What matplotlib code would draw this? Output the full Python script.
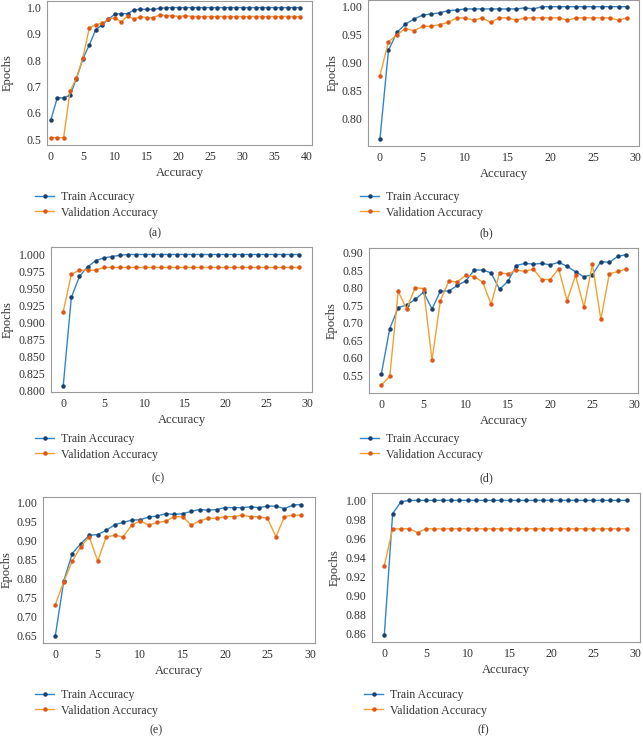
import matplotlib
matplotlib.use("Agg")
import matplotlib.pyplot as plt
from matplotlib.ticker import FormatStrFormatter

plt.rcParams['font.family'] = ['Liberation Serif', 'DejaVu Serif']

# --- data ---
train_a = [0.573, 0.657, 0.657, 0.667, 0.730, 0.805, 0.858, 0.915, 0.935, 0.956,
           0.975, 0.977, 0.977, 0.991, 0.994, 0.993, 0.993, 0.997, 0.999, 1.0,
           1.0, 1.0, 1.0, 1.0, 1.0, 1.0, 1.0, 1.0, 1.0, 1.0,
           1.0, 1.0, 1.0, 1.0, 1.0, 1.0, 1.0, 1.0, 1.0, 1.0]
val_a = [0.506, 0.506, 0.506, 0.683, 0.732, 0.809, 0.922, 0.935, 0.940, 0.956,
         0.962, 0.945, 0.969, 0.956, 0.966, 0.962, 0.962, 0.972, 0.969, 0.969,
         0.966, 0.969, 0.966, 0.966, 0.966, 0.966, 0.966, 0.966, 0.966, 0.966,
         0.966, 0.966, 0.966, 0.966, 0.966, 0.966, 0.966, 0.966, 0.966, 0.966]

train_b = [0.763, 0.922, 0.954, 0.969, 0.978, 0.985, 0.987, 0.989, 0.993, 0.994,
           0.996, 0.996, 0.996, 0.996, 0.996, 0.996, 0.996, 0.998, 0.996, 1.0,
           1.0, 1.0, 1.0, 1.0, 1.0, 1.0, 1.0, 1.0, 1.0, 1.0]
val_b = [0.877, 0.937, 0.950, 0.961, 0.957, 0.965, 0.965, 0.968, 0.972, 0.980,
         0.980, 0.976, 0.980, 0.972, 0.980, 0.980, 0.976, 0.980, 0.980, 0.980,
         0.980, 0.980, 0.976, 0.980, 0.980, 0.980, 0.980, 0.980, 0.976, 0.980]

train_c = [0.807, 0.937, 0.968, 0.982, 0.991, 0.995, 0.997, 0.999, 1.0, 1.0,
           1.0, 1.0, 1.0, 1.0, 1.0, 1.0, 1.0, 1.0, 1.0, 1.0,
           1.0, 1.0, 1.0, 1.0, 1.0, 1.0, 1.0, 1.0, 1.0, 1.0]
val_c = [0.916, 0.971, 0.977, 0.977, 0.977, 0.981, 0.981, 0.981, 0.981, 0.981,
         0.981, 0.981, 0.981, 0.981, 0.981, 0.981, 0.981, 0.981, 0.981, 0.981,
         0.981, 0.981, 0.981, 0.981, 0.981, 0.981, 0.981, 0.981, 0.981, 0.981]

train_d = [0.554, 0.684, 0.744, 0.751, 0.767, 0.788, 0.740, 0.791, 0.791, 0.807,
           0.820, 0.851, 0.851, 0.843, 0.796, 0.819, 0.864, 0.870, 0.868, 0.870,
           0.866, 0.873, 0.862, 0.846, 0.832, 0.838, 0.875, 0.873, 0.890, 0.895]
val_d = [0.522, 0.548, 0.790, 0.740, 0.801, 0.798, 0.594, 0.764, 0.820, 0.817,
         0.836, 0.832, 0.817, 0.753, 0.843, 0.840, 0.851, 0.847, 0.854, 0.824,
         0.824, 0.855, 0.764, 0.836, 0.745, 0.867, 0.710, 0.840, 0.847, 0.854]

train_e = [0.648, 0.793, 0.865, 0.891, 0.913, 0.915, 0.926, 0.941, 0.947, 0.953,
           0.954, 0.961, 0.964, 0.970, 0.968, 0.970, 0.976, 0.981, 0.979, 0.981,
           0.986, 0.986, 0.986, 0.988, 0.986, 0.990, 0.990, 0.983, 0.993, 0.994]
val_e = [0.730, 0.791, 0.845, 0.883, 0.909, 0.845, 0.909, 0.913, 0.909, 0.940,
         0.951, 0.940, 0.947, 0.950, 0.962, 0.962, 0.940, 0.951, 0.958, 0.958,
         0.962, 0.962, 0.966, 0.962, 0.962, 0.958, 0.909, 0.962, 0.966, 0.966]

train_f = [0.8575, 0.986, 0.9986, 1.0, 1.0, 1.0, 1.0, 1.0, 1.0, 1.0,
           1.0, 1.0, 1.0, 1.0, 1.0, 1.0, 1.0, 1.0, 1.0, 1.0,
           1.0, 1.0, 1.0, 1.0, 1.0, 1.0, 1.0, 1.0, 1.0, 1.0]
val_f = [0.931, 0.970, 0.970, 0.970, 0.966, 0.970, 0.970, 0.970, 0.970, 0.970,
         0.970, 0.970, 0.970, 0.970, 0.970, 0.970, 0.970, 0.970, 0.970, 0.970,
         0.970, 0.970, 0.970, 0.970, 0.970, 0.970, 0.970, 0.970, 0.970, 0.970]

W, H = 643, 736
FS = 8.6
fig = plt.figure(figsize=(W / 100, H / 100), dpi=100)


def px_axes(l, t, r, b):  # pixel box -> figure fraction
    return fig.add_axes([l / W, 1 - b / H, (r - l) / W, (b - t) / H])


# (pixel box, x-limits, y-limits, y-ticks, format, ylabel x, legend pos, caption pos, ...)
panels = [
    ((47, 1, 312, 145), (-0.6, 40.8), (0.478, 1.025), [0.5, 0.6, 0.7, 0.8, 0.9, 1.0], '%.1f', 8,
     (35, 191), (155, 233), '(a)', train_a, val_a, [0, 5, 10, 15, 20, 25, 30, 35, 40]),
    ((368, 0, 639, 146), (-1.4, 30.4), (0.751, 1.012), [0.80, 0.85, 0.90, 0.95, 1.00], '%.2f', 333,
     (360, 191), (486, 233), '(b)', train_b, val_b, [0, 5, 10, 15, 20, 25, 30]),
    ((51, 247, 312, 392), (-1.5, 30.6), (0.7985, 1.011),
     [0.800, 0.825, 0.850, 0.875, 0.900, 0.925, 0.950, 0.975, 1.000], '%.3f', 8,
     (35, 433), (158, 478), '(c)', train_c, val_c, [0, 5, 10, 15, 20, 25, 30]),
    ((369, 248, 638, 393), (-1.46, 30.4), (0.50, 0.914),
     [0.55, 0.60, 0.65, 0.70, 0.75, 0.80, 0.85, 0.90], '%.2f', 332,
     (360, 433), (486, 478), '(d)', train_d, val_d, [0, 5, 10, 15, 20, 25, 30]),
    ((43, 497, 315, 643), (-1.45, 30.6), (0.629, 1.014),
     [0.65, 0.70, 0.75, 0.80, 0.85, 0.90, 0.95, 1.00], '%.2f', 7,
     (35, 689), (156, 730), '(e)', train_e, val_e, [0, 5, 10, 15, 20, 25, 30]),
    ((372, 493, 640, 642), (-1.47, 30.6), (0.8505, 1.0078),
     [0.86, 0.88, 0.90, 0.92, 0.94, 0.96, 0.98, 1.00], '%.2f', 335,
     (364, 689), (483, 730), '(f)', train_f, val_f, [0, 5, 10, 15, 20, 25, 30]),
]

for box, xl, yl, yt, fmt, ylab_x, leg_pos, cap_pos, cap, tr, va, xt in panels:
    ax = px_axes(*box)
    ax.plot(range(len(tr)), tr, color='#2f86c8', lw=1.0, marker='o', ms=2.2,
            mfc='#1b3f6e', mec='#1b3f6e', label='Train Accuracy')
    ax.plot(range(len(va)), va, color='#f2a030', lw=1.0, marker='o', ms=2.2,
            mfc='#e0561a', mec='#e0561a', label='Validation Accuracy')
    ax.set_xlim(*xl)
    ax.set_ylim(*yl)
    ax.set_xticks(xt)
    ax.set_yticks(yt)
    ax.yaxis.set_major_formatter(FormatStrFormatter(fmt))
    ax.tick_params(labelsize=FS, length=0, pad=4, colors='#333333')
    for s in ax.spines.values():
        s.set_color('#9a9a9a')
        s.set_linewidth(0.8)
    ax.set_xlabel('Accuracy', fontsize=FS + 0.4, color='#333333', labelpad=3)
    ax.set_ylabel('Epochs', fontsize=FS + 0.4, color='#333333')
    # put the y label at a fixed pixel column, like the reference
    ax.yaxis.set_label_coords((ylab_x - box[0]) / (box[2] - box[0]), 0.5)
    ax.yaxis.label.set_va('center')

    h, lab = ax.get_legend_handles_labels()
    fig.legend(h, lab, loc='upper left', bbox_to_anchor=(leg_pos[0] / W, 1 - leg_pos[1] / H),
               frameon=False, fontsize=FS, handlelength=1.6, handletextpad=0.6,
               labelspacing=0.3, borderaxespad=0, borderpad=0, labelcolor='#333333')
    fig.text(cap_pos[0] / W, 1 - cap_pos[1] / H, cap, ha='center', va='center',
             fontsize=FS, color='#333333')

fig.savefig('out.png', dpi=100)
